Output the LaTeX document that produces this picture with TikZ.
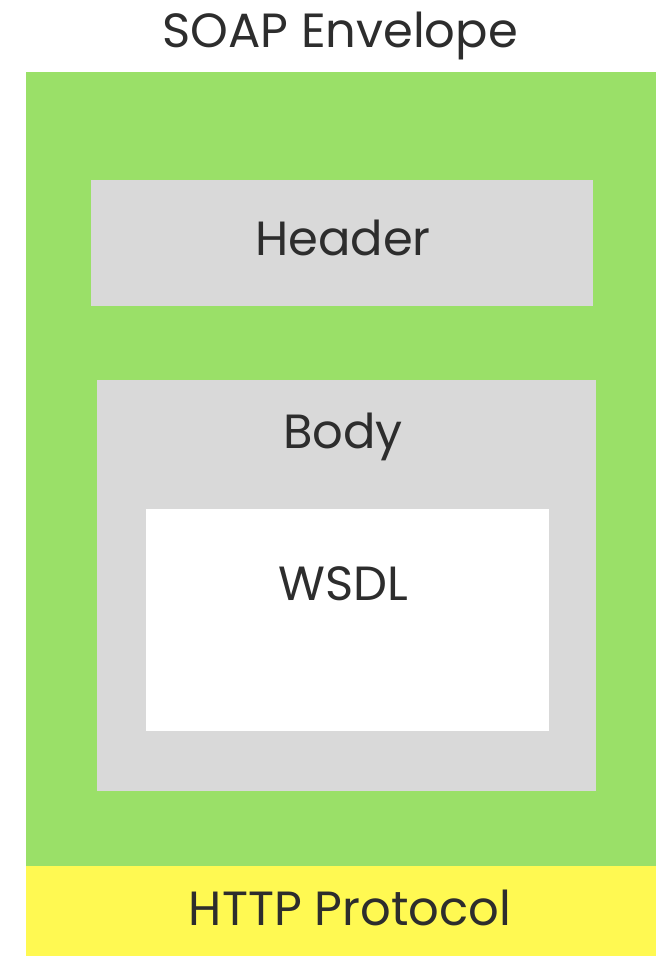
\documentclass[tikz,border=0pt]{standalone}
\usepackage{fontspec}
\setmainfont{Poppins}
\definecolor{envgreen}{RGB}{154,224,104}
\definecolor{partgray}{RGB}{217,217,217}
\definecolor{protoyellow}{RGB}{255,249,82}
\definecolor{inktext}{RGB}{45,45,45}
\begin{document}
\begin{tikzpicture}[x=1pt,y=-1pt,
  region/.style={draw=none,inner sep=0pt,outer sep=0pt},
  label/.style={anchor=base,inner sep=0pt,text=inktext,font=\fontsize{48}{56}\selectfont}]
  \useasboundingbox (0,0) rectangle (662,956);
  % envelope and transport layer
  \fill[envgreen] (26,72) rectangle (656,866);
  \fill[protoyellow] (26,866) rectangle (656,956);
  % header and body parts
  \fill[partgray] (91,180) rectangle (593,306);
  \fill[partgray] (97,380) rectangle (596,791);
  \fill[white] (146,509) rectangle (549,731);
  % labels
  \node[label] (title) at (340,47) {SOAP Envelope};
  \node[label] (header) at (343,255) {Header};
  \node[label] (body) at (343,448) {Body};
  \node[label] (wsdl) at (343,600) {WSDL};
  \node[label] (http) at (350,925) {HTTP Protocol};
\end{tikzpicture}
\end{document}
